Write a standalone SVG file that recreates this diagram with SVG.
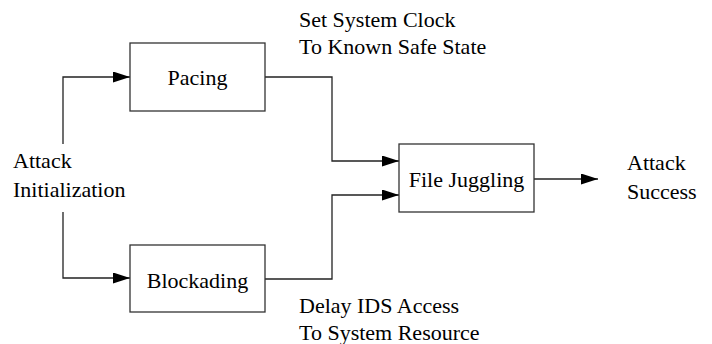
<svg xmlns="http://www.w3.org/2000/svg" width="712" height="344" viewBox="0 0 712 344" font-family="'Liberation Serif', 'Times New Roman', Times, 'Nimbus Roman', 'DejaVu Serif', serif" font-size="22">
<style>
text { font-family: 'Liberation Serif', 'Times New Roman', Times, 'Nimbus Roman', 'DejaVu Serif', serif; font-size: 22px; fill: #000; }
.box { fill: #fff; stroke: #333; stroke-width: 1.3; }
.conn { fill: none; stroke: #222; stroke-width: 1.3; }
</style>
<defs>
<marker id="ah" markerUnits="userSpaceOnUse" markerWidth="17" markerHeight="11" refX="17" refY="5.5" orient="auto">
<path d="M0,0 L17,5.5 L0,11 Z" fill="#000"/>
</marker>
</defs>
<rect width="712" height="344" fill="#fff"/>
<g id="connectors">
<path class="conn" d="M63,144 V77 H130" marker-end="url(#ah)"/>
<path class="conn" d="M63,212 V278 H130" marker-end="url(#ah)"/>
<path class="conn" d="M265,77 H332 V161 H399" marker-end="url(#ah)"/>
<path class="conn" d="M265,279 H332 V195 H399" marker-end="url(#ah)"/>
<path class="conn" d="M534,179 H598" marker-end="url(#ah)"/>
</g>
<g id="attack-init">
<text x="13" y="168">Attack</text>
<text x="13" y="197">Initialization</text>
</g>
<g id="pacing">
<rect class="box" x="130" y="43" width="135" height="68"/>
<text x="197.5" y="85" text-anchor="middle">Pacing</text>
</g>
<g id="blockading">
<rect class="box" x="130" y="245" width="135" height="67"/>
<text x="197.5" y="288" text-anchor="middle">Blockading</text>
</g>
<g id="file-juggling">
<rect class="box" x="399" y="144" width="135" height="68"/>
<text x="466.5" y="187" text-anchor="middle">File Juggling</text>
</g>
<g id="attack-success">
<text x="627" y="170">Attack</text>
<text x="627" y="199">Success</text>
</g>
<g id="label-clock">
<text x="299" y="27">Set System Clock</text>
<text x="299" y="54">To Known Safe State</text>
</g>
<g id="label-ids">
<text x="299" y="313">Delay IDS Access</text>
<text x="299" y="340">To System Resource</text>
</g>
</svg>
